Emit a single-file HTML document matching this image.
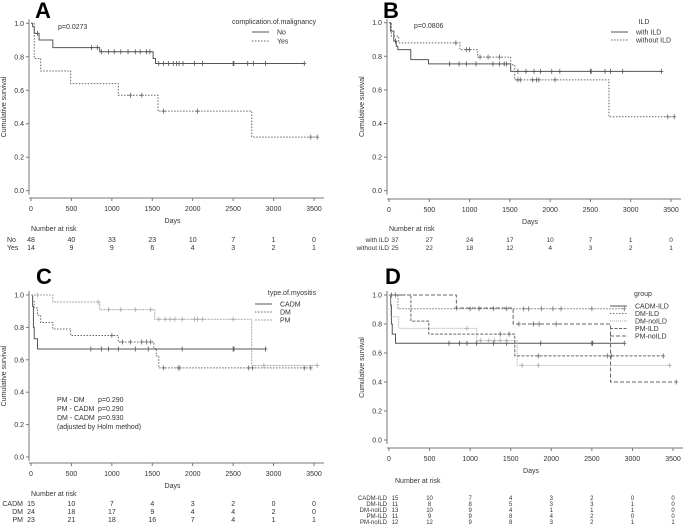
<!DOCTYPE html>
<html><head><meta charset="utf-8"><style>
body{margin:0;background:#fff;}
svg{display:block;font-family:"Liberation Sans",sans-serif;}
text{fill:#333;font-size:7px;}
</style></head><body>
<svg id="fig" width="685" height="526" viewBox="0 0 685 526" xmlns="http://www.w3.org/2000/svg"></svg>
<script>
// ---- data ----
const xTicks = [0,500,1000,1500,2000,2500,3000,3500];
const yTicks = [0,0.2,0.4,0.6,0.8,1.0];

const aNoTimes = [20,40,100,270,850,1510,1540];
const aNoSurv = [0.98,0.94,0.90,0.855,0.83,0.79,0.76];
const aNoCens = [80,750,820,870,960,1030,1110,1200,1290,1350,1430,1470,1580,1640,1700,1760,1800,1830,1880,2020,2120,2500,2510,2680,2750,2900,3380];
const aYesTimes = [40,120,490,1080,1570,2730];
const aYesSurv = [0.79,0.715,0.64,0.57,0.475,0.32];
const aYesCens = [1230,1370,1640,2060,3460,3540];
const aRiskNo = [48,40,33,23,10,7,1,0];
const aRiskYes = [14,9,9,6,4,3,2,1];

const bWithTimes = [20,60,90,110,270,490,1510];
const bWithSurv = [0.95,0.89,0.86,0.84,0.78,0.755,0.71];
const bWithCens = [80,750,870,960,1080,1290,1370,1430,1460,1600,1700,1800,1880,2020,2120,2500,2510,2680,2750,2900,3380];
const bWoTimes = [30,120,880,1100,1510,1560,2730];
const bWoSurv = [0.92,0.88,0.84,0.795,0.75,0.66,0.44];
const bWoCens = [830,960,1000,1130,1230,1370,1600,1630,1780,1830,1860,2060,3460,3540];
const bRiskWith = [37,27,24,17,10,7,1,0];
const bRiskWo = [25,22,18,12,4,3,2,1];

const cCadmTimes = [20,30,40,80];
const cCadmSurv = [0.93,0.8,0.73,0.667];
const cCadmCens = [740,870,960,1080,1290,1450,1870,2500,2510,2900];
const cDmTimes = [20,40,80,120,270,490,1080,1520,1550,1580];
const cDmSurv = [0.96,0.92,0.875,0.83,0.79,0.75,0.71,0.67,0.625,0.55];
const cDmCens = [1000,1130,1230,1370,1430,1480,1640,1820,1840,2690,2740,3380,3460];
const cPmTimes = [270,850,1530,2730];
const cPmSurv = [0.957,0.91,0.85,0.565];
const cPmCens = [80,830,960,1110,1290,1480,1580,1660,1720,1780,1870,2020,2060,2120,2500,2880,3540];
const cRiskCadm = [15,10,7,4,3,2,0,0];
const cRiskDm = [24,18,17,9,4,4,2,0];
const cRiskPm = [23,21,18,16,7,4,1,1];

const dDmIldTimes = [110];
const dDmIldSurv = [0.905];
const dDmIldCens = [1000,1110,1290,1450,1660,1720,1880,2020,2120,2500,2900];
const dDmNoTimes = [20,120,1080,1580];
const dDmNoSurv = [0.85,0.77,0.685,0.515];
const dDmNoCens = [960,1130,1230,1300,1370,1450,1640,1840,3460];
const dPmIldTimes = [270,490,1550];
const dPmIldSurv = [0.82,0.73,0.58];
const dPmIldCens = [30,1370,1480,1840,2690,2740,3380];
const dPmNoTimes = [830,1530,2730];
const dPmNoSurv = [0.91,0.80,0.40];
const dPmNoCens = [80,830,1600,1780,1850,2060,3540];
const dRisk1 = [15,10,7,4,3,2,0,0];
const dRisk2 = [11,8,8,5,3,3,1,0];
const dRisk3 = [13,10,9,4,1,1,1,0];
const dRisk4 = [11,9,9,8,4,2,0,0];
const dRisk5 = [12,12,9,8,3,2,1,1];

// ---- drawing ----
const svg = document.getElementById('fig');
const NS = 'http://www.w3.org/2000/svg';
function mk(tag, attrs, parent){const e=document.createElementNS(NS,tag);for(const k in attrs)e.setAttribute(k,attrs[k]);(parent||svg).appendChild(e);return e;}
function txt(s,x,y,anchor,parent,size,extra){const t=mk('text',Object.assign({x:x,y:y,'text-anchor':anchor||'start'},extra||{}),parent);if(size)t.style.fontSize=size+'px';t.textContent=s;return t;}

function panel(cfg){
  const g = mk('g',{});
  
  
  const sx = v => cfg.x0 + (v/3500)*(cfg.x1-cfg.x0);
  const sy = v => cfg.y0 + (1-v)*(cfg.yb-cfg.y0);
  const ya = mk('line',{x1:cfg.axX,y1:sy(1)-4,x2:cfg.axX,y2:sy(0)+4,stroke:'#777','stroke-width':1},g);
   
  const xa = mk('line',{x1:cfg.axX,y1:cfg.axY,x2:sx(3500)+10,y2:cfg.axY,stroke:'#777','stroke-width':1},g);
   
  yTicks.forEach(v=>{
    mk('line',{x1:cfg.axX-3,y1:sy(v),x2:cfg.axX,y2:sy(v),stroke:'#777'},g);
    const t = txt(v.toFixed(1),cfg.axX-5,sy(v)+2.5,'end',g);
     
  });
  xTicks.forEach(v=>{
    mk('line',{x1:sx(v),y1:cfg.axY,x2:sx(v),y2:cfg.axY+3,stroke:'#777'},g);
    const t = txt(String(v),sx(v),cfg.axY+13,'middle',g);
     
  });
  const xt = txt('Days',(sx(0)+sx(3500))/2,cfg.axY+25,'middle',g);
   
  const yc=(sy(0)+sy(1))/2;
  const yt = txt('Cumulative survival',cfg.axX-23,yc,'middle',g,7,{transform:`rotate(-90 ${cfg.axX-23} ${yc})`});
   
  const L = txt(cfg.letter,cfg.lx,cfg.ly,'start',g,22,{'font-weight':'bold'});
  L.style.fill='#000';
   
  cfg.series.forEach(s=>{
    let d=`M${sx(0)},${sy(1)}`;
    s.times.forEach((t,i)=>{d+=` H${sx(t)} V${sy(s.surv[i])}`;});
    const last = Math.max(s.times[s.times.length-1]||0, ...s.cens);
    d+=` H${sx(last)}`;
    const p = mk('path',{d:d,fill:'none',stroke:s.color,'stroke-width':1,'stroke-dasharray':s.dash||'none'},g);
     
    s.cens.forEach(c=>{
      let v=1; s.times.forEach((t,i)=>{if(t<=c)v=s.surv[i];});
      const m = mk('path',{d:`M${sx(c)-2},${sy(v)} H${sx(c)+2} M${sx(c)},${sy(v)-2.5} V${sy(v)+2.5}`,stroke:s.color,'stroke-width':0.8},g);
       
    });
  });
  const lg = mk('g',{},g);
   
  txt(cfg.legTitle,cfg.legTx,cfg.legTy,'middle',lg);
  cfg.series.forEach((s,i)=>{
    const y = cfg.legY0 + i*cfg.legDy;
    const e = mk('g',{},lg);
     
    mk('line',{x1:cfg.legLx,y1:y,x2:cfg.legLx+17,y2:y,stroke:s.color,'stroke-dasharray':s.dash||'none'},e);
    txt(s.label,cfg.legLx+25,y+2.5,'start',e);
  });
  const rt = mk('g',{},g);
   
  txt('Number at risk',cfg.nrX,cfg.nrY,'start',rt);
  const fs = cfg.rFont||7;
  cfg.risk.forEach((r,i)=>{
    const y = cfg.rY0 + i*cfg.rDy;
    txt(r.label,cfg.rLx,y,cfg.rAnchor,rt,fs);
    r.vals.forEach((v,j)=>txt(String(v),sx(xTicks[j])+(j===0?(cfg.firstOff||0):0),y,'middle',rt,fs));
  });
  return {g,sx,sy};
}

const A = panel({name:'panel-a',letter:'A',lx:35,ly:18,x0:31,x1:314,y0:23.3,yb:190.7,axX:29,axY:198,
  series:[{id:'no',label:'No',times:aNoTimes,surv:aNoSurv,cens:aNoCens,color:'#555'},
          {id:'yes',label:'Yes',times:aYesTimes,surv:aYesSurv,cens:aYesCens,color:'#666',dash:'1.5,1.5'}],
  legTitle:'complication.of.malignancy',legTx:274,legTy:24,legLx:252,legY0:32,legDy:9,
  risk:[{label:'No',vals:aRiskNo},{label:'Yes',vals:aRiskYes}],nrX:31,nrY:231,rY0:242,rDy:8,rLx:7,rAnchor:'start'});
txt('p=0.0273',58,29,'start',A.g);

const B = panel({name:'panel-b',letter:'B',lx:383,ly:18,x0:389,x1:671,y0:22.7,yb:190.7,axX:387,axY:199,
  series:[{id:'with-ild',label:'with ILD',times:bWithTimes,surv:bWithSurv,cens:bWithCens,color:'#555'},
          {id:'without-ild',label:'without ILD',times:bWoTimes,surv:bWoSurv,cens:bWoCens,color:'#666',dash:'1.5,1.5'}],
  legTitle:'ILD',legTx:644,legTy:24,legLx:611,legY0:32,legDy:8,
  risk:[{label:'with ILD',vals:bRiskWith},{label:'without ILD',vals:bRiskWo}],nrX:389,nrY:231,rY0:242,rDy:8,rLx:389,rAnchor:'end',firstOff:6,rFont:6.5});
txt('p=0.0806',414,28,'start',B.g);

const C = panel({name:'panel-c',letter:'C',lx:36,ly:284,x0:31,x1:314,y0:295,yb:457,axX:29,axY:463,
  series:[{id:'cadm',label:'CADM',times:cCadmTimes,surv:cCadmSurv,cens:cCadmCens,color:'#555'},
          {id:'dm',label:'DM',times:cDmTimes,surv:cDmSurv,cens:cDmCens,color:'#666',dash:'1.5,1.5'},
          {id:'pm',label:'PM',times:cPmTimes,surv:cPmSurv,cens:cPmCens,color:'#aaa',dash:'2,1'}],
  legTitle:'type.of.myositis',legTx:292,legTy:295,legLx:255,legY0:304,legDy:8,
  risk:[{label:'CADM',vals:cRiskCadm},{label:'DM',vals:cRiskDm},{label:'PM',vals:cRiskPm}],nrX:31,nrY:496,rY0:506,rDy:8,rLx:23,rAnchor:'end'});
[['PM - DM','p=0.290'],['PM - CADM','p=0.290'],['DM - CADM','p=0.930']].forEach((r,i)=>{
  txt(r[0],57,402+i*9,'start',C.g); txt(r[1],98,402+i*9,'start',C.g);});
txt('(adjusted by Holm method)',57,429,'start',C.g);

const D = panel({name:'panel-d',letter:'D',lx:385,ly:284,x0:389,x1:673,y0:295,yb:440,axX:387,axY:448,
  series:[{id:'cadm-ild',label:'CADM-ILD',times:cCadmTimes,surv:cCadmSurv,cens:cCadmCens,color:'#555'},
          {id:'dm-ild',label:'DM-ILD',times:dDmIldTimes,surv:dDmIldSurv,cens:dDmIldCens,color:'#777',dash:'1.5,1.5'},
          {id:'dm-noild',label:'DM-noILD',times:dDmNoTimes,surv:dDmNoSurv,cens:dDmNoCens,color:'#aaa',dash:'1,1'},
          {id:'pm-ild',label:'PM-ILD',times:dPmIldTimes,surv:dPmIldSurv,cens:dPmIldCens,color:'#666',dash:'3,1.5'},
          {id:'pm-noild',label:'PM-noILD',times:dPmNoTimes,surv:dPmNoSurv,cens:dPmNoCens,color:'#666',dash:'4,2'}],
  legTitle:'group',legTx:643,legTy:296,legLx:610,legY0:306,legDy:7.5,
  risk:[{label:'CADM-ILD',vals:dRisk1},{label:'DM-ILD',vals:dRisk2},{label:'DM-noILD',vals:dRisk3},{label:'PM-ILD',vals:dRisk4},{label:'PM-noILD',vals:dRisk5}],
  nrX:395,nrY:483,rY0:500,rDy:6,rLx:387,rAnchor:'end',firstOff:6,rFont:6});
</script>
</body></html>
